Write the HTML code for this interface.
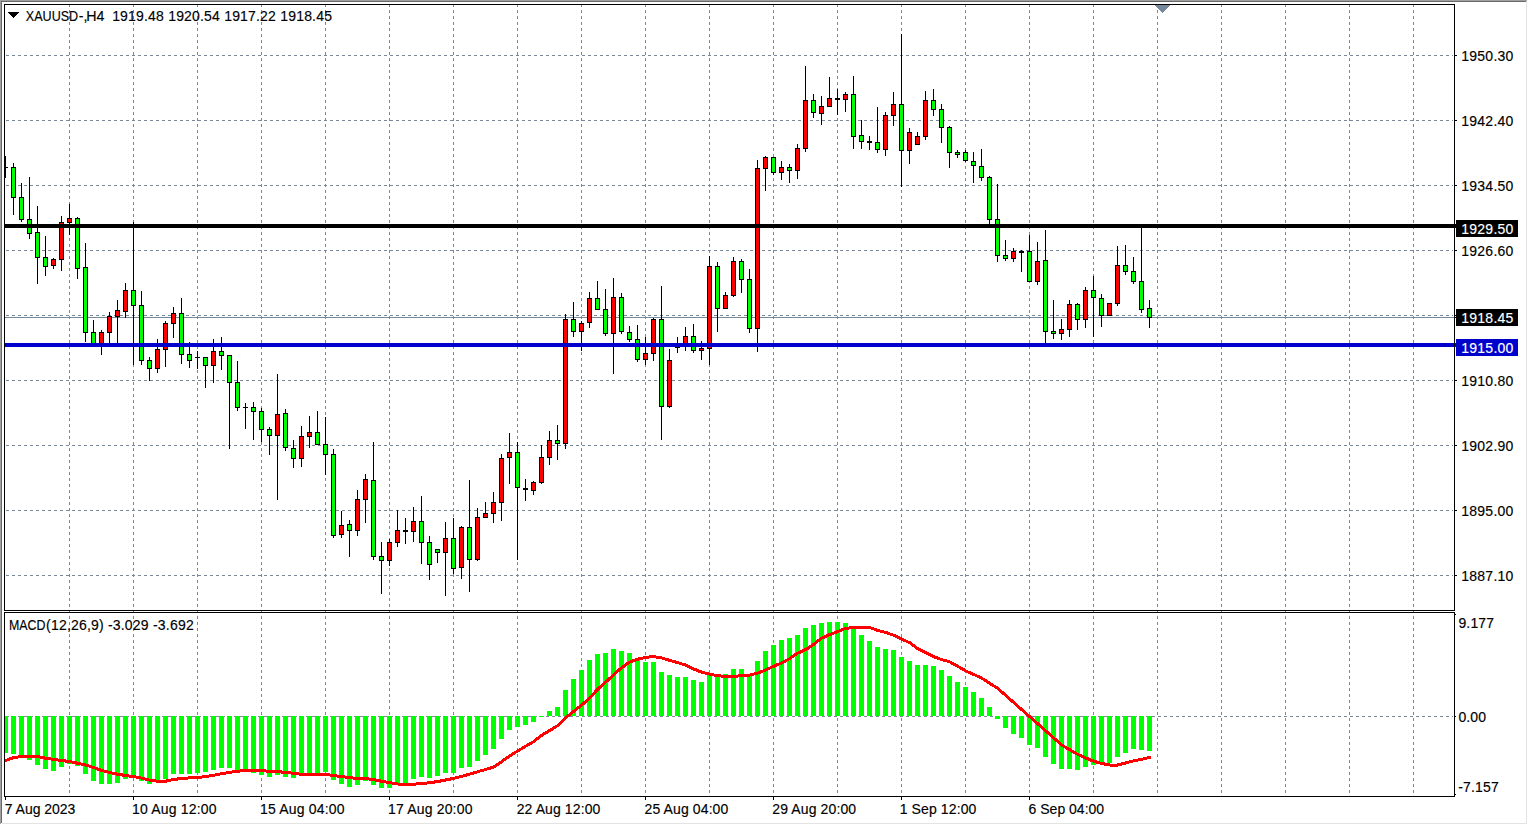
<!DOCTYPE html>
<html><head><meta charset="utf-8"><title>XAUUSD H4</title>
<style>html,body{margin:0;padding:0;background:#fff;overflow:hidden}svg{display:block}text{font-family:"Liberation Sans",sans-serif;font-size:14px;fill:#000;stroke:#000;stroke-width:.15px}.w{fill:#fff;stroke:#fff}</style></head><body>
<svg width="1528" height="825" viewBox="0 0 1528 825">
<rect x="0" y="0" width="1528" height="825" fill="#fff"/>
<g shape-rendering="crispEdges">
<rect x="0" y="0" width="1527" height="1" fill="#a0a0a0"/>
<rect x="0" y="0" width="1" height="824" fill="#a0a0a0"/>
<rect x="1" y="1" width="1525" height="1" fill="#696969"/>
<rect x="1" y="1" width="1" height="822" fill="#696969"/>
<rect x="1526" y="1" width="1" height="823" fill="#e3e3e3"/>
<rect x="2" y="823" width="1525" height="1" fill="#e3e3e3"/>
<clipPath id="cm"><rect x="5" y="5" width="1449" height="605"/></clipPath>
<clipPath id="cs"><rect x="5" y="613" width="1449" height="183"/></clipPath>
<pattern id="hd" x="0" y="0" width="6" height="1" patternUnits="userSpaceOnUse"><rect x="0" y="0" width="3" height="1" fill="#778899"/></pattern>
<pattern id="vd" x="0" y="4" width="1" height="6" patternUnits="userSpaceOnUse"><rect x="0" y="0" width="1" height="3" fill="#778899"/></pattern>
<g clip-path="url(#cm)">
<rect x="69" y="5" width="1" height="605" fill="url(#vd)"/>
<rect x="133" y="5" width="1" height="605" fill="url(#vd)"/>
<rect x="197" y="5" width="1" height="605" fill="url(#vd)"/>
<rect x="261" y="5" width="1" height="605" fill="url(#vd)"/>
<rect x="325" y="5" width="1" height="605" fill="url(#vd)"/>
<rect x="389" y="5" width="1" height="605" fill="url(#vd)"/>
<rect x="453" y="5" width="1" height="605" fill="url(#vd)"/>
<rect x="517" y="5" width="1" height="605" fill="url(#vd)"/>
<rect x="581" y="5" width="1" height="605" fill="url(#vd)"/>
<rect x="645" y="5" width="1" height="605" fill="url(#vd)"/>
<rect x="709" y="5" width="1" height="605" fill="url(#vd)"/>
<rect x="773" y="5" width="1" height="605" fill="url(#vd)"/>
<rect x="837" y="5" width="1" height="605" fill="url(#vd)"/>
<rect x="901" y="5" width="1" height="605" fill="url(#vd)"/>
<rect x="965" y="5" width="1" height="605" fill="url(#vd)"/>
<rect x="1029" y="5" width="1" height="605" fill="url(#vd)"/>
<rect x="1093" y="5" width="1" height="605" fill="url(#vd)"/>
<rect x="1157" y="5" width="1" height="605" fill="url(#vd)"/>
<rect x="1221" y="5" width="1" height="605" fill="url(#vd)"/>
<rect x="1285" y="5" width="1" height="605" fill="url(#vd)"/>
<rect x="1349" y="5" width="1" height="605" fill="url(#vd)"/>
<rect x="1413" y="5" width="1" height="605" fill="url(#vd)"/>
<rect x="5" y="55" width="1448" height="1" fill="url(#hd)"/>
<rect x="5" y="120" width="1448" height="1" fill="url(#hd)"/>
<rect x="5" y="185" width="1448" height="1" fill="url(#hd)"/>
<rect x="5" y="250" width="1448" height="1" fill="url(#hd)"/>
<rect x="5" y="315" width="1448" height="1" fill="url(#hd)"/>
<rect x="5" y="380" width="1448" height="1" fill="url(#hd)"/>
<rect x="5" y="445" width="1448" height="1" fill="url(#hd)"/>
<rect x="5" y="510" width="1448" height="1" fill="url(#hd)"/>
<rect x="5" y="575" width="1448" height="1" fill="url(#hd)"/>
</g>
<g clip-path="url(#cs)">
<rect x="69" y="613" width="1" height="183" fill="url(#vd)"/>
<rect x="133" y="613" width="1" height="183" fill="url(#vd)"/>
<rect x="197" y="613" width="1" height="183" fill="url(#vd)"/>
<rect x="261" y="613" width="1" height="183" fill="url(#vd)"/>
<rect x="325" y="613" width="1" height="183" fill="url(#vd)"/>
<rect x="389" y="613" width="1" height="183" fill="url(#vd)"/>
<rect x="453" y="613" width="1" height="183" fill="url(#vd)"/>
<rect x="517" y="613" width="1" height="183" fill="url(#vd)"/>
<rect x="581" y="613" width="1" height="183" fill="url(#vd)"/>
<rect x="645" y="613" width="1" height="183" fill="url(#vd)"/>
<rect x="709" y="613" width="1" height="183" fill="url(#vd)"/>
<rect x="773" y="613" width="1" height="183" fill="url(#vd)"/>
<rect x="837" y="613" width="1" height="183" fill="url(#vd)"/>
<rect x="901" y="613" width="1" height="183" fill="url(#vd)"/>
<rect x="965" y="613" width="1" height="183" fill="url(#vd)"/>
<rect x="1029" y="613" width="1" height="183" fill="url(#vd)"/>
<rect x="1093" y="613" width="1" height="183" fill="url(#vd)"/>
<rect x="1157" y="613" width="1" height="183" fill="url(#vd)"/>
<rect x="1221" y="613" width="1" height="183" fill="url(#vd)"/>
<rect x="1285" y="613" width="1" height="183" fill="url(#vd)"/>
<rect x="1349" y="613" width="1" height="183" fill="url(#vd)"/>
<rect x="1413" y="613" width="1" height="183" fill="url(#vd)"/>
<rect x="5" y="716" width="1448" height="1" fill="url(#hd)"/>
</g>
<rect x="69" y="611" width="1" height="1" fill="#778899"/>
<rect x="133" y="611" width="1" height="1" fill="#778899"/>
<rect x="197" y="611" width="1" height="1" fill="#778899"/>
<rect x="261" y="611" width="1" height="1" fill="#778899"/>
<rect x="325" y="611" width="1" height="1" fill="#778899"/>
<rect x="389" y="611" width="1" height="1" fill="#778899"/>
<rect x="453" y="611" width="1" height="1" fill="#778899"/>
<rect x="517" y="611" width="1" height="1" fill="#778899"/>
<rect x="581" y="611" width="1" height="1" fill="#778899"/>
<rect x="645" y="611" width="1" height="1" fill="#778899"/>
<rect x="709" y="611" width="1" height="1" fill="#778899"/>
<rect x="773" y="611" width="1" height="1" fill="#778899"/>
<rect x="837" y="611" width="1" height="1" fill="#778899"/>
<rect x="901" y="611" width="1" height="1" fill="#778899"/>
<rect x="965" y="611" width="1" height="1" fill="#778899"/>
<rect x="1029" y="611" width="1" height="1" fill="#778899"/>
<rect x="1093" y="611" width="1" height="1" fill="#778899"/>
<rect x="1157" y="611" width="1" height="1" fill="#778899"/>
<rect x="1221" y="611" width="1" height="1" fill="#778899"/>
<rect x="1285" y="611" width="1" height="1" fill="#778899"/>
<rect x="1349" y="611" width="1" height="1" fill="#778899"/>
<rect x="1413" y="611" width="1" height="1" fill="#778899"/>
<rect x="5" y="317" width="1449" height="1" fill="#778899"/>
<g clip-path="url(#cm)">
<rect x="5" y="156" width="1" height="22" fill="#000"/>
<rect x="3" y="167" width="5" height="1" fill="#000"/>
<rect x="13" y="163" width="1" height="52" fill="#000"/>
<rect x="11" y="167" width="5" height="31" fill="#000"/>
<rect x="12" y="168" width="3" height="29" fill="#00ff00"/>
<rect x="21" y="183" width="1" height="39" fill="#000"/>
<rect x="19" y="197" width="5" height="23" fill="#000"/>
<rect x="20" y="198" width="3" height="21" fill="#00ff00"/>
<rect x="29" y="177" width="1" height="62" fill="#000"/>
<rect x="27" y="219" width="5" height="15" fill="#000"/>
<rect x="28" y="220" width="3" height="13" fill="#00ff00"/>
<rect x="37" y="206" width="1" height="78" fill="#000"/>
<rect x="35" y="232" width="5" height="26" fill="#000"/>
<rect x="36" y="233" width="3" height="24" fill="#00ff00"/>
<rect x="45" y="236" width="1" height="40" fill="#000"/>
<rect x="43" y="257" width="5" height="10" fill="#000"/>
<rect x="44" y="258" width="3" height="8" fill="#00ff00"/>
<rect x="53" y="258" width="1" height="11" fill="#000"/>
<rect x="51" y="259" width="5" height="7" fill="#000"/>
<rect x="52" y="260" width="3" height="5" fill="#ff0000"/>
<rect x="61" y="216" width="1" height="55" fill="#000"/>
<rect x="59" y="222" width="5" height="38" fill="#000"/>
<rect x="60" y="223" width="3" height="36" fill="#ff0000"/>
<rect x="69" y="204" width="1" height="31" fill="#000"/>
<rect x="67" y="218" width="5" height="5" fill="#000"/>
<rect x="68" y="219" width="3" height="3" fill="#ff0000"/>
<rect x="77" y="217" width="1" height="62" fill="#000"/>
<rect x="75" y="218" width="5" height="51" fill="#000"/>
<rect x="76" y="219" width="3" height="49" fill="#00ff00"/>
<rect x="85" y="243" width="1" height="99" fill="#000"/>
<rect x="83" y="267" width="5" height="66" fill="#000"/>
<rect x="84" y="268" width="3" height="64" fill="#00ff00"/>
<rect x="93" y="320" width="1" height="23" fill="#000"/>
<rect x="91" y="332" width="5" height="12" fill="#000"/>
<rect x="92" y="333" width="3" height="10" fill="#00ff00"/>
<rect x="101" y="330" width="1" height="25" fill="#000"/>
<rect x="99" y="332" width="5" height="12" fill="#000"/>
<rect x="100" y="333" width="3" height="10" fill="#ff0000"/>
<rect x="109" y="312" width="1" height="31" fill="#000"/>
<rect x="107" y="316" width="5" height="17" fill="#000"/>
<rect x="108" y="317" width="3" height="15" fill="#ff0000"/>
<rect x="117" y="300" width="1" height="43" fill="#000"/>
<rect x="115" y="310" width="5" height="7" fill="#000"/>
<rect x="116" y="311" width="3" height="5" fill="#ff0000"/>
<rect x="125" y="283" width="1" height="35" fill="#000"/>
<rect x="123" y="290" width="5" height="22" fill="#000"/>
<rect x="124" y="291" width="3" height="20" fill="#ff0000"/>
<rect x="133" y="222" width="1" height="143" fill="#000"/>
<rect x="131" y="290" width="5" height="16" fill="#000"/>
<rect x="132" y="291" width="3" height="14" fill="#00ff00"/>
<rect x="141" y="291" width="1" height="74" fill="#000"/>
<rect x="139" y="305" width="5" height="56" fill="#000"/>
<rect x="140" y="306" width="3" height="54" fill="#00ff00"/>
<rect x="149" y="357" width="1" height="24" fill="#000"/>
<rect x="147" y="360" width="5" height="9" fill="#000"/>
<rect x="148" y="361" width="3" height="7" fill="#00ff00"/>
<rect x="157" y="339" width="1" height="34" fill="#000"/>
<rect x="155" y="349" width="5" height="20" fill="#000"/>
<rect x="156" y="350" width="3" height="18" fill="#ff0000"/>
<rect x="165" y="321" width="1" height="46" fill="#000"/>
<rect x="163" y="323" width="5" height="27" fill="#000"/>
<rect x="164" y="324" width="3" height="25" fill="#ff0000"/>
<rect x="173" y="307" width="1" height="31" fill="#000"/>
<rect x="171" y="313" width="5" height="11" fill="#000"/>
<rect x="172" y="314" width="3" height="9" fill="#ff0000"/>
<rect x="181" y="298" width="1" height="66" fill="#000"/>
<rect x="179" y="313" width="5" height="42" fill="#000"/>
<rect x="180" y="314" width="3" height="40" fill="#00ff00"/>
<rect x="189" y="342" width="1" height="26" fill="#000"/>
<rect x="187" y="354" width="5" height="7" fill="#000"/>
<rect x="188" y="355" width="3" height="5" fill="#00ff00"/>
<rect x="197" y="351" width="1" height="18" fill="#000"/>
<rect x="195" y="357" width="5" height="1" fill="#000"/>
<rect x="205" y="357" width="1" height="31" fill="#000"/>
<rect x="203" y="357" width="5" height="9" fill="#000"/>
<rect x="204" y="358" width="3" height="7" fill="#00ff00"/>
<rect x="213" y="339" width="1" height="44" fill="#000"/>
<rect x="211" y="351" width="5" height="15" fill="#000"/>
<rect x="212" y="352" width="3" height="13" fill="#ff0000"/>
<rect x="221" y="337" width="1" height="33" fill="#000"/>
<rect x="219" y="351" width="5" height="5" fill="#000"/>
<rect x="220" y="352" width="3" height="3" fill="#00ff00"/>
<rect x="229" y="355" width="1" height="94" fill="#000"/>
<rect x="227" y="355" width="5" height="28" fill="#000"/>
<rect x="228" y="356" width="3" height="26" fill="#00ff00"/>
<rect x="237" y="361" width="1" height="50" fill="#000"/>
<rect x="235" y="382" width="5" height="26" fill="#000"/>
<rect x="236" y="383" width="3" height="24" fill="#00ff00"/>
<rect x="245" y="403" width="1" height="26" fill="#000"/>
<rect x="243" y="407" width="5" height="1" fill="#000"/>
<rect x="253" y="402" width="1" height="38" fill="#000"/>
<rect x="251" y="407" width="5" height="5" fill="#000"/>
<rect x="252" y="408" width="3" height="3" fill="#00ff00"/>
<rect x="261" y="408" width="1" height="34" fill="#000"/>
<rect x="259" y="411" width="5" height="19" fill="#000"/>
<rect x="260" y="412" width="3" height="17" fill="#00ff00"/>
<rect x="269" y="427" width="1" height="28" fill="#000"/>
<rect x="267" y="429" width="5" height="7" fill="#000"/>
<rect x="268" y="430" width="3" height="5" fill="#00ff00"/>
<rect x="277" y="374" width="1" height="126" fill="#000"/>
<rect x="275" y="414" width="5" height="22" fill="#000"/>
<rect x="276" y="415" width="3" height="20" fill="#ff0000"/>
<rect x="285" y="409" width="1" height="42" fill="#000"/>
<rect x="283" y="413" width="5" height="35" fill="#000"/>
<rect x="284" y="414" width="3" height="33" fill="#00ff00"/>
<rect x="293" y="440" width="1" height="28" fill="#000"/>
<rect x="291" y="448" width="5" height="11" fill="#000"/>
<rect x="292" y="449" width="3" height="9" fill="#00ff00"/>
<rect x="301" y="426" width="1" height="41" fill="#000"/>
<rect x="299" y="436" width="5" height="23" fill="#000"/>
<rect x="300" y="437" width="3" height="21" fill="#ff0000"/>
<rect x="309" y="416" width="1" height="32" fill="#000"/>
<rect x="307" y="432" width="5" height="5" fill="#000"/>
<rect x="308" y="433" width="3" height="3" fill="#ff0000"/>
<rect x="317" y="411" width="1" height="34" fill="#000"/>
<rect x="315" y="432" width="5" height="13" fill="#000"/>
<rect x="316" y="433" width="3" height="11" fill="#00ff00"/>
<rect x="325" y="417" width="1" height="58" fill="#000"/>
<rect x="323" y="444" width="5" height="11" fill="#000"/>
<rect x="324" y="445" width="3" height="9" fill="#00ff00"/>
<rect x="333" y="449" width="1" height="89" fill="#000"/>
<rect x="331" y="454" width="5" height="82" fill="#000"/>
<rect x="332" y="455" width="3" height="80" fill="#00ff00"/>
<rect x="341" y="511" width="1" height="27" fill="#000"/>
<rect x="339" y="525" width="5" height="10" fill="#000"/>
<rect x="340" y="526" width="3" height="8" fill="#ff0000"/>
<rect x="349" y="520" width="1" height="37" fill="#000"/>
<rect x="347" y="524" width="5" height="7" fill="#000"/>
<rect x="348" y="525" width="3" height="5" fill="#00ff00"/>
<rect x="357" y="490" width="1" height="46" fill="#000"/>
<rect x="355" y="499" width="5" height="32" fill="#000"/>
<rect x="356" y="500" width="3" height="30" fill="#ff0000"/>
<rect x="365" y="474" width="1" height="49" fill="#000"/>
<rect x="363" y="479" width="5" height="21" fill="#000"/>
<rect x="364" y="480" width="3" height="19" fill="#ff0000"/>
<rect x="373" y="442" width="1" height="118" fill="#000"/>
<rect x="371" y="480" width="5" height="77" fill="#000"/>
<rect x="372" y="481" width="3" height="75" fill="#00ff00"/>
<rect x="381" y="542" width="1" height="52" fill="#000"/>
<rect x="379" y="556" width="5" height="5" fill="#000"/>
<rect x="380" y="557" width="3" height="3" fill="#00ff00"/>
<rect x="389" y="539" width="1" height="27" fill="#000"/>
<rect x="387" y="542" width="5" height="19" fill="#000"/>
<rect x="388" y="543" width="3" height="17" fill="#ff0000"/>
<rect x="397" y="510" width="1" height="37" fill="#000"/>
<rect x="395" y="530" width="5" height="13" fill="#000"/>
<rect x="396" y="531" width="3" height="11" fill="#ff0000"/>
<rect x="405" y="518" width="1" height="26" fill="#000"/>
<rect x="403" y="530" width="5" height="2" fill="#000"/>
<rect x="413" y="507" width="1" height="35" fill="#000"/>
<rect x="411" y="521" width="5" height="11" fill="#000"/>
<rect x="412" y="522" width="3" height="9" fill="#ff0000"/>
<rect x="421" y="496" width="1" height="68" fill="#000"/>
<rect x="419" y="521" width="5" height="22" fill="#000"/>
<rect x="420" y="522" width="3" height="20" fill="#00ff00"/>
<rect x="429" y="536" width="1" height="44" fill="#000"/>
<rect x="427" y="542" width="5" height="23" fill="#000"/>
<rect x="428" y="543" width="3" height="21" fill="#00ff00"/>
<rect x="437" y="549" width="1" height="14" fill="#000"/>
<rect x="435" y="549" width="5" height="4" fill="#000"/>
<rect x="436" y="550" width="3" height="2" fill="#00ff00"/>
<rect x="445" y="522" width="1" height="74" fill="#000"/>
<rect x="443" y="538" width="5" height="15" fill="#000"/>
<rect x="444" y="539" width="3" height="13" fill="#ff0000"/>
<rect x="453" y="518" width="1" height="56" fill="#000"/>
<rect x="451" y="538" width="5" height="31" fill="#000"/>
<rect x="452" y="539" width="3" height="29" fill="#00ff00"/>
<rect x="461" y="526" width="1" height="53" fill="#000"/>
<rect x="459" y="527" width="5" height="41" fill="#000"/>
<rect x="460" y="528" width="3" height="39" fill="#ff0000"/>
<rect x="469" y="480" width="1" height="112" fill="#000"/>
<rect x="467" y="527" width="5" height="33" fill="#000"/>
<rect x="468" y="528" width="3" height="31" fill="#00ff00"/>
<rect x="477" y="508" width="1" height="53" fill="#000"/>
<rect x="475" y="517" width="5" height="43" fill="#000"/>
<rect x="476" y="518" width="3" height="41" fill="#ff0000"/>
<rect x="485" y="502" width="1" height="15" fill="#000"/>
<rect x="483" y="513" width="5" height="5" fill="#000"/>
<rect x="484" y="514" width="3" height="3" fill="#ff0000"/>
<rect x="493" y="492" width="1" height="31" fill="#000"/>
<rect x="491" y="502" width="5" height="12" fill="#000"/>
<rect x="492" y="503" width="3" height="10" fill="#ff0000"/>
<rect x="501" y="454" width="1" height="67" fill="#000"/>
<rect x="499" y="458" width="5" height="45" fill="#000"/>
<rect x="500" y="459" width="3" height="43" fill="#ff0000"/>
<rect x="509" y="433" width="1" height="51" fill="#000"/>
<rect x="507" y="452" width="5" height="6" fill="#000"/>
<rect x="508" y="453" width="3" height="4" fill="#ff0000"/>
<rect x="517" y="442" width="1" height="118" fill="#000"/>
<rect x="515" y="452" width="5" height="36" fill="#000"/>
<rect x="516" y="453" width="3" height="34" fill="#00ff00"/>
<rect x="525" y="479" width="1" height="22" fill="#000"/>
<rect x="523" y="488" width="5" height="2" fill="#000"/>
<rect x="533" y="481" width="1" height="14" fill="#000"/>
<rect x="531" y="482" width="5" height="9" fill="#000"/>
<rect x="532" y="483" width="3" height="7" fill="#ff0000"/>
<rect x="541" y="445" width="1" height="39" fill="#000"/>
<rect x="539" y="457" width="5" height="26" fill="#000"/>
<rect x="540" y="458" width="3" height="24" fill="#ff0000"/>
<rect x="549" y="431" width="1" height="34" fill="#000"/>
<rect x="547" y="440" width="5" height="18" fill="#000"/>
<rect x="548" y="441" width="3" height="16" fill="#ff0000"/>
<rect x="557" y="425" width="1" height="35" fill="#000"/>
<rect x="555" y="440" width="5" height="4" fill="#000"/>
<rect x="556" y="441" width="3" height="2" fill="#00ff00"/>
<rect x="565" y="314" width="1" height="135" fill="#000"/>
<rect x="563" y="319" width="5" height="125" fill="#000"/>
<rect x="564" y="320" width="3" height="123" fill="#ff0000"/>
<rect x="573" y="302" width="1" height="35" fill="#000"/>
<rect x="571" y="319" width="5" height="13" fill="#000"/>
<rect x="572" y="320" width="3" height="11" fill="#00ff00"/>
<rect x="581" y="321" width="1" height="30" fill="#000"/>
<rect x="579" y="323" width="5" height="9" fill="#000"/>
<rect x="580" y="324" width="3" height="7" fill="#ff0000"/>
<rect x="589" y="292" width="1" height="36" fill="#000"/>
<rect x="587" y="298" width="5" height="25" fill="#000"/>
<rect x="588" y="299" width="3" height="23" fill="#ff0000"/>
<rect x="597" y="281" width="1" height="28" fill="#000"/>
<rect x="595" y="298" width="5" height="12" fill="#000"/>
<rect x="596" y="299" width="3" height="10" fill="#00ff00"/>
<rect x="605" y="289" width="1" height="47" fill="#000"/>
<rect x="603" y="309" width="5" height="25" fill="#000"/>
<rect x="604" y="310" width="3" height="23" fill="#00ff00"/>
<rect x="613" y="278" width="1" height="96" fill="#000"/>
<rect x="611" y="297" width="5" height="37" fill="#000"/>
<rect x="612" y="298" width="3" height="35" fill="#ff0000"/>
<rect x="621" y="293" width="1" height="41" fill="#000"/>
<rect x="619" y="297" width="5" height="35" fill="#000"/>
<rect x="620" y="298" width="3" height="33" fill="#00ff00"/>
<rect x="629" y="326" width="1" height="16" fill="#000"/>
<rect x="627" y="332" width="5" height="8" fill="#000"/>
<rect x="628" y="333" width="3" height="6" fill="#00ff00"/>
<rect x="637" y="325" width="1" height="37" fill="#000"/>
<rect x="635" y="339" width="5" height="21" fill="#000"/>
<rect x="636" y="340" width="3" height="19" fill="#00ff00"/>
<rect x="645" y="337" width="1" height="28" fill="#000"/>
<rect x="643" y="353" width="5" height="7" fill="#000"/>
<rect x="644" y="354" width="3" height="5" fill="#ff0000"/>
<rect x="653" y="318" width="1" height="43" fill="#000"/>
<rect x="651" y="319" width="5" height="35" fill="#000"/>
<rect x="652" y="320" width="3" height="33" fill="#ff0000"/>
<rect x="661" y="286" width="1" height="154" fill="#000"/>
<rect x="659" y="319" width="5" height="88" fill="#000"/>
<rect x="660" y="320" width="3" height="86" fill="#00ff00"/>
<rect x="669" y="349" width="1" height="59" fill="#000"/>
<rect x="667" y="360" width="5" height="47" fill="#000"/>
<rect x="668" y="361" width="3" height="45" fill="#ff0000"/>
<rect x="677" y="337" width="1" height="16" fill="#000"/>
<rect x="675" y="347" width="5" height="1" fill="#000"/>
<rect x="685" y="327" width="1" height="24" fill="#000"/>
<rect x="683" y="336" width="5" height="10" fill="#000"/>
<rect x="684" y="337" width="3" height="8" fill="#ff0000"/>
<rect x="693" y="324" width="1" height="29" fill="#000"/>
<rect x="691" y="336" width="5" height="15" fill="#000"/>
<rect x="692" y="337" width="3" height="13" fill="#00ff00"/>
<rect x="701" y="341" width="1" height="19" fill="#000"/>
<rect x="699" y="348" width="5" height="3" fill="#000"/>
<rect x="700" y="349" width="3" height="1" fill="#ff0000"/>
<rect x="709" y="256" width="1" height="109" fill="#000"/>
<rect x="707" y="266" width="5" height="83" fill="#000"/>
<rect x="708" y="267" width="3" height="81" fill="#ff0000"/>
<rect x="717" y="262" width="1" height="70" fill="#000"/>
<rect x="715" y="266" width="5" height="43" fill="#000"/>
<rect x="716" y="267" width="3" height="41" fill="#00ff00"/>
<rect x="725" y="292" width="1" height="16" fill="#000"/>
<rect x="723" y="295" width="5" height="14" fill="#000"/>
<rect x="724" y="296" width="3" height="12" fill="#ff0000"/>
<rect x="733" y="257" width="1" height="40" fill="#000"/>
<rect x="731" y="261" width="5" height="35" fill="#000"/>
<rect x="732" y="262" width="3" height="33" fill="#ff0000"/>
<rect x="741" y="259" width="1" height="34" fill="#000"/>
<rect x="739" y="261" width="5" height="19" fill="#000"/>
<rect x="740" y="262" width="3" height="17" fill="#00ff00"/>
<rect x="749" y="269" width="1" height="64" fill="#000"/>
<rect x="747" y="279" width="5" height="50" fill="#000"/>
<rect x="748" y="280" width="3" height="48" fill="#00ff00"/>
<rect x="757" y="160" width="1" height="192" fill="#000"/>
<rect x="755" y="168" width="5" height="161" fill="#000"/>
<rect x="756" y="169" width="3" height="159" fill="#ff0000"/>
<rect x="765" y="156" width="1" height="35" fill="#000"/>
<rect x="763" y="157" width="5" height="12" fill="#000"/>
<rect x="764" y="158" width="3" height="10" fill="#ff0000"/>
<rect x="773" y="157" width="1" height="18" fill="#000"/>
<rect x="771" y="157" width="5" height="16" fill="#000"/>
<rect x="772" y="158" width="3" height="14" fill="#00ff00"/>
<rect x="781" y="161" width="1" height="19" fill="#000"/>
<rect x="779" y="167" width="5" height="6" fill="#000"/>
<rect x="780" y="168" width="3" height="4" fill="#ff0000"/>
<rect x="789" y="164" width="1" height="19" fill="#000"/>
<rect x="787" y="167" width="5" height="4" fill="#000"/>
<rect x="788" y="168" width="3" height="2" fill="#00ff00"/>
<rect x="797" y="144" width="1" height="35" fill="#000"/>
<rect x="795" y="148" width="5" height="23" fill="#000"/>
<rect x="796" y="149" width="3" height="21" fill="#ff0000"/>
<rect x="805" y="66" width="1" height="86" fill="#000"/>
<rect x="803" y="100" width="5" height="49" fill="#000"/>
<rect x="804" y="101" width="3" height="47" fill="#ff0000"/>
<rect x="813" y="94" width="1" height="24" fill="#000"/>
<rect x="811" y="100" width="5" height="13" fill="#000"/>
<rect x="812" y="101" width="3" height="11" fill="#00ff00"/>
<rect x="821" y="96" width="1" height="29" fill="#000"/>
<rect x="819" y="106" width="5" height="8" fill="#000"/>
<rect x="820" y="107" width="3" height="6" fill="#ff0000"/>
<rect x="829" y="77" width="1" height="29" fill="#000"/>
<rect x="827" y="98" width="5" height="9" fill="#000"/>
<rect x="828" y="99" width="3" height="7" fill="#ff0000"/>
<rect x="837" y="89" width="1" height="26" fill="#000"/>
<rect x="835" y="98" width="5" height="2" fill="#000"/>
<rect x="845" y="92" width="1" height="20" fill="#000"/>
<rect x="843" y="94" width="5" height="6" fill="#000"/>
<rect x="844" y="95" width="3" height="4" fill="#ff0000"/>
<rect x="853" y="76" width="1" height="73" fill="#000"/>
<rect x="851" y="94" width="5" height="43" fill="#000"/>
<rect x="852" y="95" width="3" height="41" fill="#00ff00"/>
<rect x="861" y="120" width="1" height="29" fill="#000"/>
<rect x="859" y="135" width="5" height="7" fill="#000"/>
<rect x="860" y="136" width="3" height="5" fill="#00ff00"/>
<rect x="869" y="136" width="1" height="14" fill="#000"/>
<rect x="867" y="141" width="5" height="2" fill="#000"/>
<rect x="877" y="107" width="1" height="46" fill="#000"/>
<rect x="875" y="142" width="5" height="8" fill="#000"/>
<rect x="876" y="143" width="3" height="6" fill="#00ff00"/>
<rect x="885" y="112" width="1" height="44" fill="#000"/>
<rect x="883" y="115" width="5" height="35" fill="#000"/>
<rect x="884" y="116" width="3" height="33" fill="#ff0000"/>
<rect x="893" y="92" width="1" height="34" fill="#000"/>
<rect x="891" y="104" width="5" height="12" fill="#000"/>
<rect x="892" y="105" width="3" height="10" fill="#ff0000"/>
<rect x="901" y="34" width="1" height="153" fill="#000"/>
<rect x="899" y="104" width="5" height="47" fill="#000"/>
<rect x="900" y="105" width="3" height="45" fill="#00ff00"/>
<rect x="909" y="128" width="1" height="36" fill="#000"/>
<rect x="907" y="132" width="5" height="19" fill="#000"/>
<rect x="908" y="133" width="3" height="17" fill="#ff0000"/>
<rect x="917" y="132" width="1" height="12" fill="#000"/>
<rect x="915" y="136" width="5" height="9" fill="#000"/>
<rect x="916" y="137" width="3" height="7" fill="#ff0000"/>
<rect x="925" y="91" width="1" height="49" fill="#000"/>
<rect x="923" y="100" width="5" height="37" fill="#000"/>
<rect x="924" y="101" width="3" height="35" fill="#ff0000"/>
<rect x="933" y="89" width="1" height="27" fill="#000"/>
<rect x="931" y="100" width="5" height="10" fill="#000"/>
<rect x="932" y="101" width="3" height="8" fill="#00ff00"/>
<rect x="941" y="104" width="1" height="39" fill="#000"/>
<rect x="939" y="109" width="5" height="19" fill="#000"/>
<rect x="940" y="110" width="3" height="17" fill="#00ff00"/>
<rect x="949" y="126" width="1" height="42" fill="#000"/>
<rect x="947" y="127" width="5" height="26" fill="#000"/>
<rect x="948" y="128" width="3" height="24" fill="#00ff00"/>
<rect x="957" y="150" width="1" height="8" fill="#000"/>
<rect x="955" y="152" width="5" height="3" fill="#000"/>
<rect x="956" y="153" width="3" height="1" fill="#00ff00"/>
<rect x="965" y="150" width="1" height="12" fill="#000"/>
<rect x="963" y="152" width="5" height="9" fill="#000"/>
<rect x="964" y="153" width="3" height="7" fill="#00ff00"/>
<rect x="973" y="152" width="1" height="31" fill="#000"/>
<rect x="971" y="161" width="5" height="5" fill="#000"/>
<rect x="972" y="162" width="3" height="3" fill="#00ff00"/>
<rect x="981" y="149" width="1" height="32" fill="#000"/>
<rect x="979" y="166" width="5" height="12" fill="#000"/>
<rect x="980" y="167" width="3" height="10" fill="#00ff00"/>
<rect x="989" y="176" width="1" height="48" fill="#000"/>
<rect x="987" y="177" width="5" height="43" fill="#000"/>
<rect x="988" y="178" width="3" height="41" fill="#00ff00"/>
<rect x="997" y="184" width="1" height="78" fill="#000"/>
<rect x="995" y="219" width="5" height="37" fill="#000"/>
<rect x="996" y="220" width="3" height="35" fill="#00ff00"/>
<rect x="1005" y="240" width="1" height="21" fill="#000"/>
<rect x="1003" y="255" width="5" height="4" fill="#000"/>
<rect x="1004" y="256" width="3" height="2" fill="#00ff00"/>
<rect x="1013" y="248" width="1" height="14" fill="#000"/>
<rect x="1011" y="251" width="5" height="8" fill="#000"/>
<rect x="1012" y="252" width="3" height="6" fill="#ff0000"/>
<rect x="1021" y="250" width="1" height="22" fill="#000"/>
<rect x="1019" y="251" width="5" height="2" fill="#000"/>
<rect x="1029" y="235" width="1" height="46" fill="#000"/>
<rect x="1027" y="251" width="5" height="31" fill="#000"/>
<rect x="1028" y="252" width="3" height="29" fill="#00ff00"/>
<rect x="1037" y="242" width="1" height="43" fill="#000"/>
<rect x="1035" y="261" width="5" height="21" fill="#000"/>
<rect x="1036" y="262" width="3" height="19" fill="#ff0000"/>
<rect x="1045" y="230" width="1" height="113" fill="#000"/>
<rect x="1043" y="260" width="5" height="72" fill="#000"/>
<rect x="1044" y="261" width="3" height="70" fill="#00ff00"/>
<rect x="1053" y="300" width="1" height="39" fill="#000"/>
<rect x="1051" y="331" width="5" height="3" fill="#000"/>
<rect x="1052" y="332" width="3" height="1" fill="#00ff00"/>
<rect x="1061" y="319" width="1" height="21" fill="#000"/>
<rect x="1059" y="329" width="5" height="5" fill="#000"/>
<rect x="1060" y="330" width="3" height="3" fill="#ff0000"/>
<rect x="1069" y="300" width="1" height="37" fill="#000"/>
<rect x="1067" y="304" width="5" height="26" fill="#000"/>
<rect x="1068" y="305" width="3" height="24" fill="#ff0000"/>
<rect x="1077" y="303" width="1" height="27" fill="#000"/>
<rect x="1075" y="304" width="5" height="16" fill="#000"/>
<rect x="1076" y="305" width="3" height="14" fill="#00ff00"/>
<rect x="1085" y="287" width="1" height="41" fill="#000"/>
<rect x="1083" y="290" width="5" height="30" fill="#000"/>
<rect x="1084" y="291" width="3" height="28" fill="#ff0000"/>
<rect x="1093" y="276" width="1" height="61" fill="#000"/>
<rect x="1091" y="290" width="5" height="8" fill="#000"/>
<rect x="1092" y="291" width="3" height="6" fill="#00ff00"/>
<rect x="1101" y="294" width="1" height="33" fill="#000"/>
<rect x="1099" y="298" width="5" height="18" fill="#000"/>
<rect x="1100" y="299" width="3" height="16" fill="#00ff00"/>
<rect x="1109" y="303" width="1" height="12" fill="#000"/>
<rect x="1107" y="303" width="5" height="13" fill="#000"/>
<rect x="1108" y="304" width="3" height="11" fill="#ff0000"/>
<rect x="1117" y="246" width="1" height="60" fill="#000"/>
<rect x="1115" y="265" width="5" height="39" fill="#000"/>
<rect x="1116" y="266" width="3" height="37" fill="#ff0000"/>
<rect x="1125" y="245" width="1" height="30" fill="#000"/>
<rect x="1123" y="265" width="5" height="7" fill="#000"/>
<rect x="1124" y="266" width="3" height="5" fill="#00ff00"/>
<rect x="1133" y="257" width="1" height="27" fill="#000"/>
<rect x="1131" y="271" width="5" height="11" fill="#000"/>
<rect x="1132" y="272" width="3" height="9" fill="#00ff00"/>
<rect x="1141" y="227" width="1" height="86" fill="#000"/>
<rect x="1139" y="281" width="5" height="29" fill="#000"/>
<rect x="1140" y="282" width="3" height="27" fill="#00ff00"/>
<rect x="1149" y="300" width="1" height="28" fill="#000"/>
<rect x="1147" y="308" width="5" height="10" fill="#000"/>
<rect x="1148" y="309" width="3" height="8" fill="#00ff00"/>
</g>
<rect x="1155" y="5" width="15" height="1" fill="#778899"/>
<rect x="1156" y="6" width="13" height="1" fill="#778899"/>
<rect x="1157" y="7" width="11" height="1" fill="#778899"/>
<rect x="1158" y="8" width="9" height="1" fill="#778899"/>
<rect x="1159" y="9" width="7" height="1" fill="#778899"/>
<rect x="1160" y="10" width="5" height="1" fill="#778899"/>
<rect x="1161" y="11" width="3" height="1" fill="#778899"/>
<rect x="1162" y="12" width="1" height="1" fill="#778899"/>
<rect x="5" y="224" width="1451" height="4" fill="#000"/>
<rect x="5" y="343" width="1451" height="4" fill="#0000cd"/>
<g clip-path="url(#cs)">
<rect x="3" y="716" width="5" height="37" fill="#00ff00"/>
<rect x="11" y="716" width="5" height="38" fill="#00ff00"/>
<rect x="19" y="716" width="5" height="41" fill="#00ff00"/>
<rect x="27" y="716" width="5" height="44" fill="#00ff00"/>
<rect x="35" y="716" width="5" height="49" fill="#00ff00"/>
<rect x="43" y="716" width="5" height="53" fill="#00ff00"/>
<rect x="51" y="716" width="5" height="55" fill="#00ff00"/>
<rect x="59" y="716" width="5" height="51" fill="#00ff00"/>
<rect x="67" y="716" width="5" height="48" fill="#00ff00"/>
<rect x="75" y="716" width="5" height="50" fill="#00ff00"/>
<rect x="83" y="716" width="5" height="58" fill="#00ff00"/>
<rect x="91" y="716" width="5" height="65" fill="#00ff00"/>
<rect x="99" y="716" width="5" height="68" fill="#00ff00"/>
<rect x="107" y="716" width="5" height="68" fill="#00ff00"/>
<rect x="115" y="716" width="5" height="67" fill="#00ff00"/>
<rect x="123" y="716" width="5" height="63" fill="#00ff00"/>
<rect x="131" y="716" width="5" height="61" fill="#00ff00"/>
<rect x="139" y="716" width="5" height="65" fill="#00ff00"/>
<rect x="147" y="716" width="5" height="68" fill="#00ff00"/>
<rect x="155" y="716" width="5" height="64" fill="#00ff00"/>
<rect x="163" y="716" width="5" height="63" fill="#00ff00"/>
<rect x="171" y="716" width="5" height="58" fill="#00ff00"/>
<rect x="179" y="716" width="5" height="58" fill="#00ff00"/>
<rect x="187" y="716" width="5" height="58" fill="#00ff00"/>
<rect x="195" y="716" width="5" height="57" fill="#00ff00"/>
<rect x="203" y="716" width="5" height="56" fill="#00ff00"/>
<rect x="211" y="716" width="5" height="54" fill="#00ff00"/>
<rect x="219" y="716" width="5" height="52" fill="#00ff00"/>
<rect x="227" y="716" width="5" height="52" fill="#00ff00"/>
<rect x="235" y="716" width="5" height="54" fill="#00ff00"/>
<rect x="243" y="716" width="5" height="55" fill="#00ff00"/>
<rect x="251" y="716" width="5" height="57" fill="#00ff00"/>
<rect x="259" y="716" width="5" height="59" fill="#00ff00"/>
<rect x="267" y="716" width="5" height="61" fill="#00ff00"/>
<rect x="275" y="716" width="5" height="59" fill="#00ff00"/>
<rect x="283" y="716" width="5" height="61" fill="#00ff00"/>
<rect x="291" y="716" width="5" height="62" fill="#00ff00"/>
<rect x="299" y="716" width="5" height="58" fill="#00ff00"/>
<rect x="307" y="716" width="5" height="57" fill="#00ff00"/>
<rect x="315" y="716" width="5" height="57" fill="#00ff00"/>
<rect x="323" y="716" width="5" height="56" fill="#00ff00"/>
<rect x="331" y="716" width="5" height="64" fill="#00ff00"/>
<rect x="339" y="716" width="5" height="68" fill="#00ff00"/>
<rect x="347" y="716" width="5" height="71" fill="#00ff00"/>
<rect x="355" y="716" width="5" height="69" fill="#00ff00"/>
<rect x="363" y="716" width="5" height="65" fill="#00ff00"/>
<rect x="371" y="716" width="5" height="69" fill="#00ff00"/>
<rect x="379" y="716" width="5" height="72" fill="#00ff00"/>
<rect x="387" y="716" width="5" height="72" fill="#00ff00"/>
<rect x="395" y="716" width="5" height="67" fill="#00ff00"/>
<rect x="403" y="716" width="5" height="67" fill="#00ff00"/>
<rect x="411" y="716" width="5" height="63" fill="#00ff00"/>
<rect x="419" y="716" width="5" height="61" fill="#00ff00"/>
<rect x="427" y="716" width="5" height="62" fill="#00ff00"/>
<rect x="435" y="716" width="5" height="60" fill="#00ff00"/>
<rect x="443" y="716" width="5" height="57" fill="#00ff00"/>
<rect x="451" y="716" width="5" height="57" fill="#00ff00"/>
<rect x="459" y="716" width="5" height="52" fill="#00ff00"/>
<rect x="467" y="716" width="5" height="51" fill="#00ff00"/>
<rect x="475" y="716" width="5" height="45" fill="#00ff00"/>
<rect x="483" y="716" width="5" height="39" fill="#00ff00"/>
<rect x="491" y="716" width="5" height="33" fill="#00ff00"/>
<rect x="499" y="716" width="5" height="23" fill="#00ff00"/>
<rect x="507" y="716" width="5" height="14" fill="#00ff00"/>
<rect x="515" y="716" width="5" height="11" fill="#00ff00"/>
<rect x="523" y="716" width="5" height="9" fill="#00ff00"/>
<rect x="531" y="716" width="5" height="6" fill="#00ff00"/>
<rect x="539" y="716" width="5" height="1" fill="#00ff00"/>
<rect x="547" y="711" width="5" height="5" fill="#00ff00"/>
<rect x="555" y="707" width="5" height="9" fill="#00ff00"/>
<rect x="563" y="690" width="5" height="26" fill="#00ff00"/>
<rect x="571" y="679" width="5" height="37" fill="#00ff00"/>
<rect x="579" y="670" width="5" height="46" fill="#00ff00"/>
<rect x="587" y="660" width="5" height="56" fill="#00ff00"/>
<rect x="595" y="654" width="5" height="62" fill="#00ff00"/>
<rect x="603" y="653" width="5" height="63" fill="#00ff00"/>
<rect x="611" y="649" width="5" height="67" fill="#00ff00"/>
<rect x="619" y="651" width="5" height="65" fill="#00ff00"/>
<rect x="627" y="653" width="5" height="63" fill="#00ff00"/>
<rect x="635" y="658" width="5" height="58" fill="#00ff00"/>
<rect x="643" y="662" width="5" height="54" fill="#00ff00"/>
<rect x="651" y="662" width="5" height="54" fill="#00ff00"/>
<rect x="659" y="672" width="5" height="44" fill="#00ff00"/>
<rect x="667" y="675" width="5" height="41" fill="#00ff00"/>
<rect x="675" y="677" width="5" height="39" fill="#00ff00"/>
<rect x="683" y="677" width="5" height="39" fill="#00ff00"/>
<rect x="691" y="680" width="5" height="36" fill="#00ff00"/>
<rect x="699" y="682" width="5" height="34" fill="#00ff00"/>
<rect x="707" y="674" width="5" height="42" fill="#00ff00"/>
<rect x="715" y="675" width="5" height="41" fill="#00ff00"/>
<rect x="723" y="674" width="5" height="42" fill="#00ff00"/>
<rect x="731" y="669" width="5" height="47" fill="#00ff00"/>
<rect x="739" y="669" width="5" height="47" fill="#00ff00"/>
<rect x="747" y="674" width="5" height="42" fill="#00ff00"/>
<rect x="755" y="661" width="5" height="55" fill="#00ff00"/>
<rect x="763" y="651" width="5" height="65" fill="#00ff00"/>
<rect x="771" y="645" width="5" height="71" fill="#00ff00"/>
<rect x="779" y="640" width="5" height="76" fill="#00ff00"/>
<rect x="787" y="638" width="5" height="78" fill="#00ff00"/>
<rect x="795" y="635" width="5" height="81" fill="#00ff00"/>
<rect x="803" y="628" width="5" height="88" fill="#00ff00"/>
<rect x="811" y="625" width="5" height="91" fill="#00ff00"/>
<rect x="819" y="623" width="5" height="93" fill="#00ff00"/>
<rect x="827" y="622" width="5" height="94" fill="#00ff00"/>
<rect x="835" y="622" width="5" height="94" fill="#00ff00"/>
<rect x="843" y="623" width="5" height="93" fill="#00ff00"/>
<rect x="851" y="628" width="5" height="88" fill="#00ff00"/>
<rect x="859" y="635" width="5" height="81" fill="#00ff00"/>
<rect x="867" y="641" width="5" height="75" fill="#00ff00"/>
<rect x="875" y="647" width="5" height="69" fill="#00ff00"/>
<rect x="883" y="649" width="5" height="67" fill="#00ff00"/>
<rect x="891" y="650" width="5" height="66" fill="#00ff00"/>
<rect x="899" y="657" width="5" height="59" fill="#00ff00"/>
<rect x="907" y="661" width="5" height="55" fill="#00ff00"/>
<rect x="915" y="665" width="5" height="51" fill="#00ff00"/>
<rect x="923" y="665" width="5" height="51" fill="#00ff00"/>
<rect x="931" y="666" width="5" height="50" fill="#00ff00"/>
<rect x="939" y="670" width="5" height="46" fill="#00ff00"/>
<rect x="947" y="676" width="5" height="40" fill="#00ff00"/>
<rect x="955" y="682" width="5" height="34" fill="#00ff00"/>
<rect x="963" y="687" width="5" height="29" fill="#00ff00"/>
<rect x="971" y="692" width="5" height="24" fill="#00ff00"/>
<rect x="979" y="698" width="5" height="18" fill="#00ff00"/>
<rect x="987" y="707" width="5" height="9" fill="#00ff00"/>
<rect x="995" y="716" width="5" height="3" fill="#00ff00"/>
<rect x="1003" y="716" width="5" height="12" fill="#00ff00"/>
<rect x="1011" y="716" width="5" height="18" fill="#00ff00"/>
<rect x="1019" y="716" width="5" height="22" fill="#00ff00"/>
<rect x="1027" y="716" width="5" height="29" fill="#00ff00"/>
<rect x="1035" y="716" width="5" height="32" fill="#00ff00"/>
<rect x="1043" y="716" width="5" height="41" fill="#00ff00"/>
<rect x="1051" y="716" width="5" height="48" fill="#00ff00"/>
<rect x="1059" y="716" width="5" height="53" fill="#00ff00"/>
<rect x="1067" y="716" width="5" height="53" fill="#00ff00"/>
<rect x="1075" y="716" width="5" height="54" fill="#00ff00"/>
<rect x="1083" y="716" width="5" height="51" fill="#00ff00"/>
<rect x="1091" y="716" width="5" height="49" fill="#00ff00"/>
<rect x="1099" y="716" width="5" height="47" fill="#00ff00"/>
<rect x="1107" y="716" width="5" height="47" fill="#00ff00"/>
<rect x="1115" y="716" width="5" height="41" fill="#00ff00"/>
<rect x="1123" y="716" width="5" height="37" fill="#00ff00"/>
<rect x="1131" y="716" width="5" height="33" fill="#00ff00"/>
<rect x="1139" y="716" width="5" height="34" fill="#00ff00"/>
<rect x="1147" y="716" width="5" height="35" fill="#00ff00"/>
</g>
</g>
<g clip-path="url(#cs)"><polyline points="5.5,760.5 13.5,757.6 21.5,756.5 29.5,756.5 37.5,756.5 45.5,758.2 53.5,759.3 61.5,760.5 69.5,761.5 77.5,763.2 85.5,765 93.5,767.4 101.5,770.4 109.5,772.4 117.5,774.2 125.5,775.5 133.5,776.6 141.5,778.1 149.5,780.1 157.5,781.2 165.5,781.2 173.5,779.5 181.5,778.5 189.5,777.9 197.5,777.5 205.5,776.6 213.5,775.3 221.5,773.7 229.5,772.4 237.5,771.3 245.5,770.4 253.5,770.4 261.5,770.7 269.5,771.3 277.5,771.6 285.5,772.4 293.5,773.3 301.5,774.3 309.5,774.3 317.5,774.3 325.5,774.3 333.5,775.5 341.5,776.6 349.5,777.6 357.5,778.5 365.5,778.5 373.5,779.6 381.5,781.2 389.5,782.6 397.5,784 405.5,784.2 413.5,784.2 421.5,783.6 429.5,782.7 437.5,781.6 445.5,780 453.5,778.4 461.5,776.4 469.5,774.2 477.5,771.8 485.5,769.5 493.5,767.2 501.5,761.7 509.5,756.1 517.5,751.1 525.5,746.3 533.5,741.7 541.5,735.5 549.5,730.6 557.5,725.7 565.5,718 573.5,711.5 581.5,705.2 589.5,698.1 597.5,689.4 605.5,682.3 613.5,674.9 621.5,667.8 629.5,662.2 637.5,659.2 645.5,657.4 653.5,656.6 661.5,657.9 669.5,660.3 677.5,662.6 685.5,665 693.5,668.9 701.5,672.1 709.5,674.1 717.5,675.6 725.5,676.5 733.5,676.5 741.5,675.6 749.5,675.2 757.5,673.2 765.5,670 773.5,666.4 781.5,663 789.5,658.7 797.5,653.2 805.5,649.7 813.5,644.5 821.5,638.2 829.5,634.7 837.5,631.6 845.5,628.4 853.5,627.5 861.5,627.5 869.5,627.5 877.5,630.3 885.5,632.4 893.5,635.1 901.5,639 909.5,642.6 917.5,648.5 925.5,652.4 933.5,656.6 941.5,659.5 949.5,661.8 957.5,666.1 965.5,670.8 973.5,674.4 981.5,678 989.5,683.2 997.5,688.2 1005.5,695.2 1013.5,702.3 1021.5,709.4 1029.5,716.5 1037.5,723.6 1045.5,730.7 1053.5,737.8 1061.5,744.9 1069.5,749.6 1077.5,754.3 1085.5,757.9 1093.5,761.1 1101.5,763.4 1109.5,765 1117.5,765 1125.5,763 1133.5,760.9 1141.5,759.3 1149.5,757.5" fill="none" stroke="#ff0000" stroke-width="3" stroke-linejoin="round" stroke-linecap="round" shape-rendering="crispEdges"/><polyline points="5.5,760.5 13.5,757.6 21.5,756.5 29.5,756.5 37.5,756.5 45.5,758.2 53.5,759.3 61.5,760.5 69.5,761.5 77.5,763.2 85.5,765 93.5,767.4 101.5,770.4 109.5,772.4 117.5,774.2 125.5,775.5 133.5,776.6 141.5,778.1 149.5,780.1 157.5,781.2 165.5,781.2 173.5,779.5 181.5,778.5 189.5,777.9 197.5,777.5 205.5,776.6 213.5,775.3 221.5,773.7 229.5,772.4 237.5,771.3 245.5,770.4 253.5,770.4 261.5,770.7 269.5,771.3 277.5,771.6 285.5,772.4 293.5,773.3 301.5,774.3 309.5,774.3 317.5,774.3 325.5,774.3 333.5,775.5 341.5,776.6 349.5,777.6 357.5,778.5 365.5,778.5 373.5,779.6 381.5,781.2 389.5,782.6 397.5,784 405.5,784.2 413.5,784.2 421.5,783.6 429.5,782.7 437.5,781.6 445.5,780 453.5,778.4 461.5,776.4 469.5,774.2 477.5,771.8 485.5,769.5 493.5,767.2 501.5,761.7 509.5,756.1 517.5,751.1 525.5,746.3 533.5,741.7 541.5,735.5 549.5,730.6 557.5,725.7 565.5,718 573.5,711.5 581.5,705.2 589.5,698.1 597.5,689.4 605.5,682.3 613.5,674.9 621.5,667.8 629.5,662.2 637.5,659.2 645.5,657.4 653.5,656.6 661.5,657.9 669.5,660.3 677.5,662.6 685.5,665 693.5,668.9 701.5,672.1 709.5,674.1 717.5,675.6 725.5,676.5 733.5,676.5 741.5,675.6 749.5,675.2 757.5,673.2 765.5,670 773.5,666.4 781.5,663 789.5,658.7 797.5,653.2 805.5,649.7 813.5,644.5 821.5,638.2 829.5,634.7 837.5,631.6 845.5,628.4 853.5,627.5 861.5,627.5 869.5,627.5 877.5,630.3 885.5,632.4 893.5,635.1 901.5,639 909.5,642.6 917.5,648.5 925.5,652.4 933.5,656.6 941.5,659.5 949.5,661.8 957.5,666.1 965.5,670.8 973.5,674.4 981.5,678 989.5,683.2 997.5,688.2 1005.5,695.2 1013.5,702.3 1021.5,709.4 1029.5,716.5 1037.5,723.6 1045.5,730.7 1053.5,737.8 1061.5,744.9 1069.5,749.6 1077.5,754.3 1085.5,757.9 1093.5,761.1 1101.5,763.4 1109.5,765 1117.5,765 1125.5,763 1133.5,760.9 1141.5,759.3 1149.5,757.5" fill="none" stroke="#ff0000" stroke-width="1.6" stroke-linejoin="round"/></g>
<g shape-rendering="crispEdges">
<rect x="4" y="4" width="1451" height="1" fill="#000"/>
<rect x="4" y="610" width="1451" height="1" fill="#000"/>
<rect x="4" y="4" width="1" height="607" fill="#000"/>
<rect x="1454" y="4" width="1" height="607" fill="#000"/>
<rect x="4" y="612" width="1451" height="1" fill="#000"/>
<rect x="4" y="796" width="1451" height="1" fill="#000"/>
<rect x="4" y="612" width="1" height="185" fill="#000"/>
<rect x="1454" y="612" width="1" height="185" fill="#000"/>
<rect x="1455" y="55" width="2" height="1" fill="#000"/>
<rect x="1455" y="120" width="2" height="1" fill="#000"/>
<rect x="1455" y="185" width="2" height="1" fill="#000"/>
<rect x="1455" y="250" width="2" height="1" fill="#000"/>
<rect x="1455" y="315" width="2" height="1" fill="#000"/>
<rect x="1455" y="380" width="2" height="1" fill="#000"/>
<rect x="1455" y="445" width="2" height="1" fill="#000"/>
<rect x="1455" y="510" width="2" height="1" fill="#000"/>
<rect x="1455" y="575" width="2" height="1" fill="#000"/>
<rect x="1455" y="317" width="2" height="1" fill="#000"/>
<rect x="1455" y="614" width="1" height="1" fill="#000"/>
<rect x="1455" y="716" width="1" height="1" fill="#000"/>
<rect x="1455" y="794" width="1" height="1" fill="#000"/>
<rect x="5" y="797" width="1" height="3" fill="#000"/>
<rect x="133" y="797" width="1" height="3" fill="#000"/>
<rect x="261" y="797" width="1" height="3" fill="#000"/>
<rect x="389" y="797" width="1" height="3" fill="#000"/>
<rect x="517" y="797" width="1" height="3" fill="#000"/>
<rect x="645" y="797" width="1" height="3" fill="#000"/>
<rect x="773" y="797" width="1" height="3" fill="#000"/>
<rect x="901" y="797" width="1" height="3" fill="#000"/>
<rect x="1029" y="797" width="1" height="3" fill="#000"/>
<rect x="8" y="12" width="11" height="1" fill="#000"/>
<rect x="9" y="13" width="9" height="1" fill="#000"/>
<rect x="10" y="14" width="7" height="1" fill="#000"/>
<rect x="11" y="15" width="5" height="1" fill="#000"/>
<rect x="12" y="16" width="3" height="1" fill="#000"/>
<rect x="13" y="17" width="1" height="1" fill="#000"/>
<rect x="1456" y="220" width="62" height="17" fill="#000"/>
<rect x="1456" y="309" width="62" height="17" fill="#000"/>
<rect x="1456" y="339" width="62" height="17" fill="#0000cd"/>
</g>
<text transform="translate(25.8,21) scale(0.8981,1)" x="0" y="0">XAUUSD</text>
<text transform="translate(78.8,21) scale(1.018,1)" x="0" y="0">-,</text>
<text transform="translate(86.18,21) scale(1.0169,1)" x="0" y="0">H4</text>
<text x="112.2" y="21" letter-spacing="0.147">1919.48</text>
<text x="168.2" y="21" letter-spacing="0.18">1920.54</text>
<text x="224.2" y="21" letter-spacing="0.163">1917.22</text>
<text x="280.2" y="21" letter-spacing="0.197">1918.45</text>
<text transform="translate(9.01,630) scale(0.8851,1)" x="0" y="0">MACD</text>
<text x="46.1" y="630" letter-spacing="0.203">(12,26,9)</text>
<text x="108.0" y="630" letter-spacing="0.178">-3.029</text>
<text x="153.0" y="630" letter-spacing="0.198">-3.692</text>
<text x="1461.2" y="61" letter-spacing="0.263">1950.30</text>
<text x="1461.2" y="126" letter-spacing="0.263">1942.40</text>
<text x="1461.2" y="191" letter-spacing="0.263">1934.50</text>
<text x="1461.2" y="256" letter-spacing="0.263">1926.60</text>
<text x="1461.2" y="386" letter-spacing="0.263">1910.80</text>
<text x="1461.2" y="451" letter-spacing="0.263">1902.90</text>
<text x="1461.2" y="516" letter-spacing="0.263">1895.00</text>
<text x="1461.2" y="581" letter-spacing="0.263">1887.10</text>
<text x="1461.2" y="234" class="w" letter-spacing="0.263">1929.50</text>
<text x="1461.2" y="323" class="w" letter-spacing="0.263">1918.45</text>
<text x="1461.2" y="353" class="w" letter-spacing="0.263">1915.00</text>
<text x="1458.4" y="628" letter-spacing="0.163">9.177</text>
<text x="1458.5" y="722" letter-spacing="0.079">0.00</text>
<text x="1458.2" y="792" letter-spacing="0.178">-7.157</text>
<text x="4.7" y="814" letter-spacing="-0.015">7 Aug 2023</text>
<text x="132.1" y="814" letter-spacing="0.172">10 Aug 12:00</text>
<text x="260.1" y="814" letter-spacing="0.172">15 Aug 04:00</text>
<text x="388.0" y="814" letter-spacing="0.172">17 Aug 20:00</text>
<text x="516.7" y="814" letter-spacing="0.099">22 Aug 12:00</text>
<text x="644.6" y="814" letter-spacing="0.108">25 Aug 04:00</text>
<text x="772.3" y="814" letter-spacing="0.117">29 Aug 20:00</text>
<text x="899.7" y="814" letter-spacing="0.118">1 Sep 12:00</text>
<text x="1028.6" y="814">6 Sep 04:00</text>
</svg></body></html>
